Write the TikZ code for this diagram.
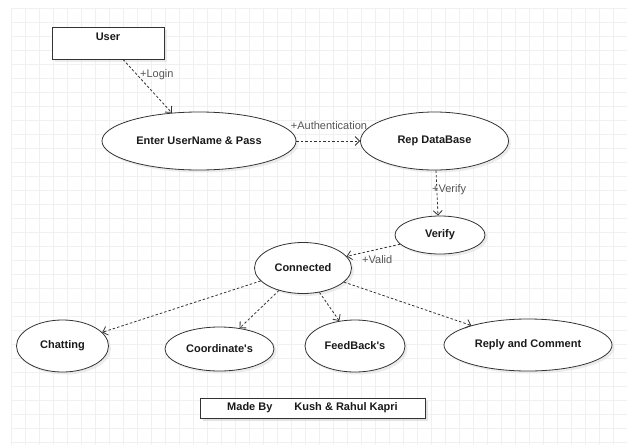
\documentclass[tikz,border=0pt]{standalone}
\usepackage{fontspec}
\setmainfont{Liberation Sans}[Ligatures=TeXOff]
\usetikzlibrary{arrows.meta,shapes.geometric,shadows}
\definecolor{edgec}{HTML}{333333}
\definecolor{gridc}{HTML}{F0F0F0}
\definecolor{txtc}{HTML}{1A1A1A}
\definecolor{lblc}{HTML}{555555}
\begin{document}
\begin{tikzpicture}[x=1pt,y=-1pt,
  shade/.style={drop shadow={shadow xshift=2.5pt,shadow yshift=-2.5pt,fill=black!14}},
  uc/.style={ellipse,draw=edgec,line width=0.8pt,fill=white,inner sep=0pt,
    font=\bfseries\fontsize{11}{13}\selectfont,text=txtc,shade},
  boxn/.style={rectangle,draw=edgec,line width=0.8pt,fill=white,inner sep=0pt,shade},
  btxt/.style={font=\bfseries\fontsize{11}{13}\selectfont,text=txtc,inner sep=0pt},
  dep/.style={draw=edgec,line width=0.8pt,dash pattern=on 2.5pt off 2pt,
    -{Straight Barb[length=4.5pt,width=9pt]}},
  lbl/.style={font=\fontsize{11}{13}\selectfont,text=lblc,inner sep=0pt}]
\useasboundingbox (0,0) rectangle (627,445);
\fill[white] (0,0) rectangle (627,445);
% grid
\foreach \gx in {11,25,...,627} \draw[gridc,line width=0.5pt] (\gx,8) -- (\gx,445);
\foreach \gy in {8,22,...,445} \draw[gridc,line width=0.5pt] (11,\gy) -- (627,\gy);
% nodes
\node[boxn,minimum width=112pt,minimum height=32pt] (user) at (108,43) {};
\node[btxt] (usertxt) at (108,37) {User};
\node[uc,minimum width=194pt,minimum height=58pt] (enter) at (199,141) {Enter UserName \& Pass};
\node[uc,minimum width=148pt,minimum height=58pt] (rep) at (434.5,141) {Rep DataBase};
\node[uc,minimum width=90pt,minimum height=38pt] (verify) at (440,235) {Verify};
\node[uc,minimum width=97pt,minimum height=51pt] (conn) at (303,268) {Connected};
\node[uc,minimum width=92pt,minimum height=52pt] (chat) at (62.5,346) {Chatting};
\node[uc,minimum width=109pt,minimum height=44pt] (coord) at (219.5,349) {Coordinate's};
\node[uc,minimum width=100pt,minimum height=52pt] (feed) at (355,346) {FeedBack's};
\node[uc,minimum width=168pt,minimum height=52pt] (reply) at (528,345) {Reply and Comment};
\node[boxn,btxt,draw=edgec,fill=white,shade,minimum width=225pt,minimum height=20pt] (made) at (312.5,408) {Made By\hspace{22pt}Kush \& Rahul Kapri};
% connectors
\draw[dep] ([xshift=15pt]user.south) -- (enter.134);
\node[lbl,anchor=west] (llogin) at (140,75) {+Login};
\draw[dep] (enter.east) -- (rep.west);
\node[lbl] (lauth) at (329,126) {+Authentication};
\draw[dep] ([xshift=1.5pt]rep.south) -- ([xshift=-2pt]verify.north);
\node[lbl,anchor=west] (lverify) at (432,190) {+Verify};
\draw[dep] (verify.193) -- (conn.15);
\node[lbl,anchor=west] (lvalid) at (362,260) {+Valid};
\draw[dep] (conn.197) -- (chat.19);
\draw[dep] (conn.223) -- (coord.46);
\draw[dep] (conn.304) -- (feed.122);
\draw[dep] (conn.341) -- (reply.161);
\end{tikzpicture}
\end{document}
